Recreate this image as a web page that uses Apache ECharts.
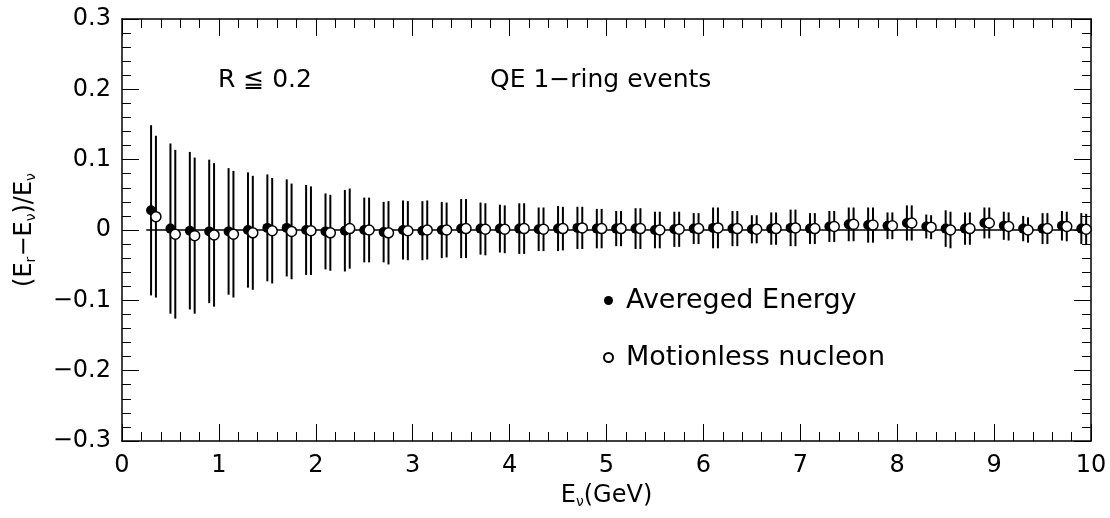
<!DOCTYPE html>
<html>
<head>
<meta charset="utf-8">
<script src="https://cdn.jsdelivr.net/npm/echarts@6/dist/echarts.min.js"></script>
<style>
  html, body { margin: 0; padding: 0; background: #fff; }
  #chart { width: 1110px; height: 518px; }
</style>
</head>
<body>
<div id="chart"></div>
<script>
// neutrino energy bins (GeV)
const energies = [0.3, 0.5, 0.7, 0.9, 1.1, 1.3, 1.5, 1.7, 1.9, 2.1, 2.3, 2.5, 2.7, 2.9, 3.1, 3.3, 3.5, 3.7, 3.9,
  4.1, 4.3, 4.5, 4.7, 4.9, 5.1, 5.3, 5.5, 5.7, 5.9, 6.1, 6.3, 6.5, 6.7, 6.9, 7.1, 7.3, 7.5, 7.7, 7.9,
  8.1, 8.3, 8.5, 8.7, 8.9, 9.1, 9.3, 9.5, 9.7, 9.9];

// averaged energy: mean and error
const avgMean = [0.028, 0.002, -0.001, -0.002, -0.002, 0.000, 0.003, 0.003, 0.000, -0.002, -0.001, 0.000, -0.003, 0.000, -0.001, 0.000, 0.002, 0.002, 0.002,
  0.002, 0.001, 0.002, 0.003, 0.002, 0.002, 0.002, 0.000, 0.001, 0.002, 0.003, 0.002, 0.001, 0.002, 0.003, 0.002, 0.005, 0.008, 0.007, 0.006,
  0.010, 0.005, 0.002, 0.002, 0.010, 0.006, 0.002, 0.002, 0.006, 0.002];
const avgErr = [0.121, 0.121, 0.112, 0.102, 0.090, 0.082, 0.076, 0.069, 0.064, 0.054, 0.058, 0.046, 0.043, 0.042, 0.042, 0.040, 0.042, 0.037, 0.034,
  0.036, 0.031, 0.032, 0.030, 0.028, 0.025, 0.029, 0.026, 0.025, 0.022, 0.029, 0.025, 0.020, 0.023, 0.026, 0.022, 0.022, 0.024, 0.025, 0.019,
  0.025, 0.017, 0.026, 0.023, 0.022, 0.020, 0.018, 0.022, 0.021, 0.022];

// motionless nucleon: mean and error
const motMean = [0.019, -0.006, -0.008, -0.007, -0.006, -0.004, -0.001, -0.002, -0.001, -0.004, 0.002, 0.000, -0.004, -0.001, 0.000, 0.000, 0.002, 0.001, 0.001,
  0.002, 0.001, 0.002, 0.003, 0.002, 0.002, 0.002, 0.000, 0.001, 0.002, 0.003, 0.002, 0.001, 0.002, 0.003, 0.002, 0.005, 0.008, 0.007, 0.006,
  0.010, 0.004, 0.000, 0.002, 0.010, 0.005, 0.000, 0.002, 0.005, 0.001];
const motErr = [0.115, 0.120, 0.111, 0.102, 0.090, 0.081, 0.075, 0.068, 0.063, 0.054, 0.057, 0.046, 0.045, 0.042, 0.042, 0.039, 0.042, 0.037, 0.034,
  0.036, 0.031, 0.031, 0.030, 0.028, 0.025, 0.029, 0.026, 0.025, 0.022, 0.029, 0.025, 0.020, 0.023, 0.026, 0.022, 0.022, 0.024, 0.025, 0.019,
  0.025, 0.017, 0.026, 0.023, 0.022, 0.020, 0.018, 0.022, 0.021, 0.022];

// reference line at zero
const zeroLineX = [0.25, 10];
const zeroLineY = [0, 0];

const FONT = 'DejaVu Sans';
const DODGE = 0.05; // open points drawn slightly right of the filled ones

const chart = echarts.init(document.getElementById('chart'));

function points(dx, mean, err) {
  return energies.map((e, i) => [e + dx, mean[i], mean[i] - err[i], mean[i] + err[i]]);
}
const avgData = points(0, avgMean, avgErr);
const motData = points(DODGE, motMean, motErr);

function errorBars(params, api) {
  const x = api.value(0);
  const lo = api.coord([x, api.value(2)]);
  const hi = api.coord([x, api.value(3)]);
  return {
    type: 'line',
    shape: { x1: lo[0], y1: lo[1], x2: hi[0], y2: hi[1] },
    style: { stroke: '#000', lineWidth: 2 }
  };
}

function yLabel(v) {
  if (Math.abs(v) < 1e-9) return '0';
  return (v < 0 ? '\u2212' : '') + Math.abs(v).toFixed(1);
}

const axisCommon = {
  axisLine: { show: true, onZero: false, lineStyle: { color: '#000', width: 1.5 } },
  axisTick: { show: true, inside: true, length: 17, lineStyle: { color: '#000', width: 1 } },
  minorTick: { show: true, splitNumber: 5, length: 9, lineStyle: { color: '#000', width: 1 } },
  splitLine: { show: false },
  minorSplitLine: { show: false }
};

const subRich = {
  sub: { fontFamily: FONT, fontSize: 14, color: '#000', verticalAlign: 'bottom', padding: [12, 0, 0, 0] },
  base: { fontFamily: FONT, fontSize: 24, color: '#000' }
};

chart.setOption({
  animation: false,
  grid: { left: 122, right: 19, top: 19, bottom: 77 },
  legend: {
    orient: 'vertical',
    left: 598,
    top: 282,
    itemGap: 30,
    itemWidth: 9,
    itemHeight: 9,
    icon: 'circle',
    textStyle: { fontFamily: FONT, fontSize: 27, color: '#000', padding: [0, 0, 0, 8] },
    data: ['Avereged Energy', 'Motionless nucleon']
  },
  graphic: [
    { type: 'text', left: 218, top: 68, style: { text: 'R \u2266 0.2', font: '25px "DejaVu Sans"', fill: '#000' } },
    { type: 'text', left: 490, top: 68, style: { text: 'QE 1\u2212ring events', font: '25px "DejaVu Sans"', fill: '#000' } }
  ],
  xAxis: [
    Object.assign({}, axisCommon, {
      type: 'value', position: 'bottom', min: 0, max: 10, interval: 1,
      axisLabel: { fontFamily: FONT, fontSize: 24, color: '#000', margin: 13 },
      name: '{base|E}{sub|\u03bd}{base|(GeV)}',
      nameLocation: 'middle',
      nameGap: 42,
      nameTextStyle: { rich: subRich }
    }),
    Object.assign({}, axisCommon, {
      type: 'value', position: 'top', min: 0, max: 10, interval: 1,
      axisLabel: { show: false }
    })
  ],
  yAxis: [
    Object.assign({}, axisCommon, {
      type: 'value', position: 'left', min: -0.3, max: 0.3, interval: 0.1,
      axisLabel: { fontFamily: FONT, fontSize: 24, color: '#000', margin: 11, formatter: yLabel },
      name: '{base|(E}{sub|r}{base|\u2212E}{sub|\u03bd}{base|)/E}{sub|\u03bd}',
      nameLocation: 'middle',
      nameRotate: 90,
      nameGap: 84,
      nameTextStyle: { rich: subRich }
    }),
    Object.assign({}, axisCommon, {
      type: 'value', position: 'right', min: -0.3, max: 0.3, interval: 0.1,
      axisLabel: { show: false }
    })
  ],
  series: [
    {
      type: 'line',
      data: zeroLineX.map((x, i) => [x, zeroLineY[i]]),
      symbol: 'none',
      lineStyle: { color: '#000', width: 1.5 },
      silent: true,
      z: 1
    },
    {
      name: 'avgBars',
      type: 'custom',
      renderItem: errorBars,
      data: avgData,
      z: 2
    },
    {
      name: 'motBars',
      type: 'custom',
      renderItem: errorBars,
      data: motData,
      z: 2
    },
    {
      name: 'Avereged Energy',
      type: 'scatter',
      data: avgData.map(d => [d[0], d[1]]),
      symbol: 'circle',
      symbolSize: 10,
      itemStyle: { color: '#000', opacity: 1 },
      z: 3
    },
    {
      name: 'Motionless nucleon',
      type: 'scatter',
      data: motData.map(d => [d[0], d[1]]),
      symbol: 'circle',
      symbolSize: 10,
      itemStyle: { color: '#fff', borderColor: '#000', borderWidth: 1.5, opacity: 1 },
      z: 4
    }
  ]
});
</script>
</body>
</html>
